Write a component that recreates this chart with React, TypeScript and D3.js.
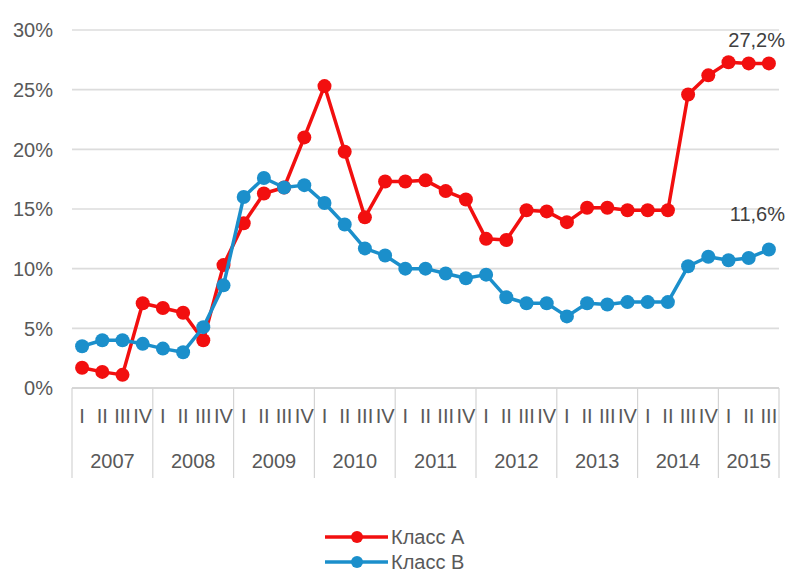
import React from "react";
import * as d3 from "d3";

// Quarterly share by class, 2007 Q1 – 2015 Q3 (percent)
const years = ["2007", "2008", "2009", "2010", "2011", "2012", "2013", "2014", "2015"];
const quartersPerYear = [4, 4, 4, 4, 4, 4, 4, 4, 3];
const quarterNames = ["I", "II", "III", "IV"];

const classA = [
  1.7, 1.35, 1.1, 7.1, 6.7, 6.3, 4.0, 10.3,
  13.8, 16.3, 16.8, 21.0, 25.3, 19.8, 14.3, 17.3,
  17.3, 17.4, 16.5, 15.8, 12.5, 12.4, 14.9, 14.8,
  13.9, 15.1, 15.1, 14.9, 14.9, 14.9, 24.6, 26.2,
  27.3, 27.2, 27.2,
];
const classB = [
  3.5, 4.0, 4.0, 3.7, 3.3, 3.0, 5.1, 8.6,
  16.0, 17.6, 16.8, 17.0, 15.5, 13.7, 11.7, 11.1,
  10.0, 10.0, 9.6, 9.2, 9.5, 7.6, 7.1, 7.1,
  6.0, 7.1, 7.0, 7.2, 7.2, 7.2, 10.2, 11.0,
  10.7, 10.9, 11.6,
];
const yTicks = [0, 5, 10, 15, 20, 25, 30];
const seriesNames = ["Класс А", "Класс В"];

const RED = "#F20F0F";
const BLUE = "#1B8FCB";
const FONT = "'Liberation Sans', Arial, sans-serif";
const FS = 20;

const quarters: { year: number; q: number }[] = [];
quartersPerYear.forEach((n, yi) => {
  for (let q = 0; q < n; q++) quarters.push({ year: yi, q });
});

const fmt = (v: number) => v.toFixed(1).replace(".", ",") + "%";

export default function App() {
  const width = 787;
  const height = 574;
  const left = 72;
  const right = 779;
  const top = 30;
  const bottom = 388;

  const x = d3
    .scaleBand<number>()
    .domain(quarters.map((_, i) => i))
    .range([left, right]);
  const cx = (i: number) => (x(i) as number) + x.bandwidth() / 2;
  const y = d3.scaleLinear().domain([0, 30]).range([bottom, top]);

  const line = d3
    .line<number>()
    .x((_, i) => cx(i))
    .y((d) => y(d));

  // year boundaries (index of first quarter in each year)
  const boundaries: number[] = [];
  let acc = 0;
  quartersPerYear.forEach((n) => {
    boundaries.push(acc);
    acc += n;
  });
  const boundaryX = (k: number) =>
    k >= quarters.length ? right : (x(k) as number);

  const series = [
    { name: seriesNames[0], values: classA, color: RED, labelDy: -16 },
    { name: seriesNames[1], values: classB, color: BLUE, labelDy: -29 },
  ];

  return (
    <svg
      width={width}
      height={height}
      style={{ position: "absolute", left: 0, top: 0, background: "#fff" }}
      fontFamily={FONT}
    >
      {/* horizontal gridlines */}
      {yTicks.map((t) => (
        <line
          key={t}
          x1={left}
          x2={right}
          y1={y(t)}
          y2={y(t)}
          stroke={t === 0 ? "#C8C8C8" : "#DCDCDC"}
          strokeWidth={1.6}
        />
      ))}
      {/* y tick labels */}
      {yTicks.map((t) => (
        <text
          key={"l" + t}
          x={53}
          y={y(t)}
          dy="0.36em"
          textAnchor="end"
          fontSize={FS}
          fill="#595959"
        >
          {t}%
        </text>
      ))}

      {/* category separators */}
      {[...boundaries, quarters.length].map((k) => (
        <line
          key={"b" + k}
          x1={boundaryX(k)}
          x2={boundaryX(k)}
          y1={bottom}
          y2={478}
          stroke="#D4D4D4"
          strokeWidth={1.2}
        />
      ))}
      {/* quarter labels */}
      {quarters.map((d, i) => (
        <text
          key={"q" + i}
          x={cx(i)}
          y={416}
          dy="0.36em"
          textAnchor="middle"
          fontSize={FS}
          fill="#595959"
        >
          {quarterNames[d.q]}
        </text>
      ))}
      {/* year labels */}
      {years.map((yr, yi) => {
        const a = boundaryX(boundaries[yi]);
        const b = boundaryX(boundaries[yi] + quartersPerYear[yi]);
        return (
          <text
            key={yr}
            x={(a + b) / 2}
            y={461}
            dy="0.36em"
            textAnchor="middle"
            fontSize={FS}
            fill="#595959"
          >
            {yr}
          </text>
        );
      })}

      {/* series */}
      {series.map((s) => (
        <g key={s.name}>
          <path
            d={line(s.values) || ""}
            fill="none"
            stroke={s.color}
            strokeWidth={3.5}
            strokeLinejoin="round"
          />
          {s.values.map((v, i) => (
            <circle key={i} cx={cx(i)} cy={y(v)} r={7} fill={s.color} />
          ))}
          <text
            x={785}
            y={y(s.values[s.values.length - 1]) + s.labelDy}
            textAnchor="end"
            fontSize={FS}
            fill="#404040"
          >
            {fmt(s.values[s.values.length - 1])}
          </text>
        </g>
      ))}

      {/* legend */}
      {series.map((s, k) => {
        const ly = 537 + k * 25;
        return (
          <g key={"lg" + k}>
            <line x1={325} x2={388} y1={ly} y2={ly} stroke={s.color} strokeWidth={3.5} />
            <circle cx={357} cy={ly} r={6} fill={s.color} />
            <text x={391} y={ly} dy="0.36em" fontSize={FS} fill="#595959">
              {s.name}
            </text>
          </g>
        );
      })}
    </svg>
  );
}
